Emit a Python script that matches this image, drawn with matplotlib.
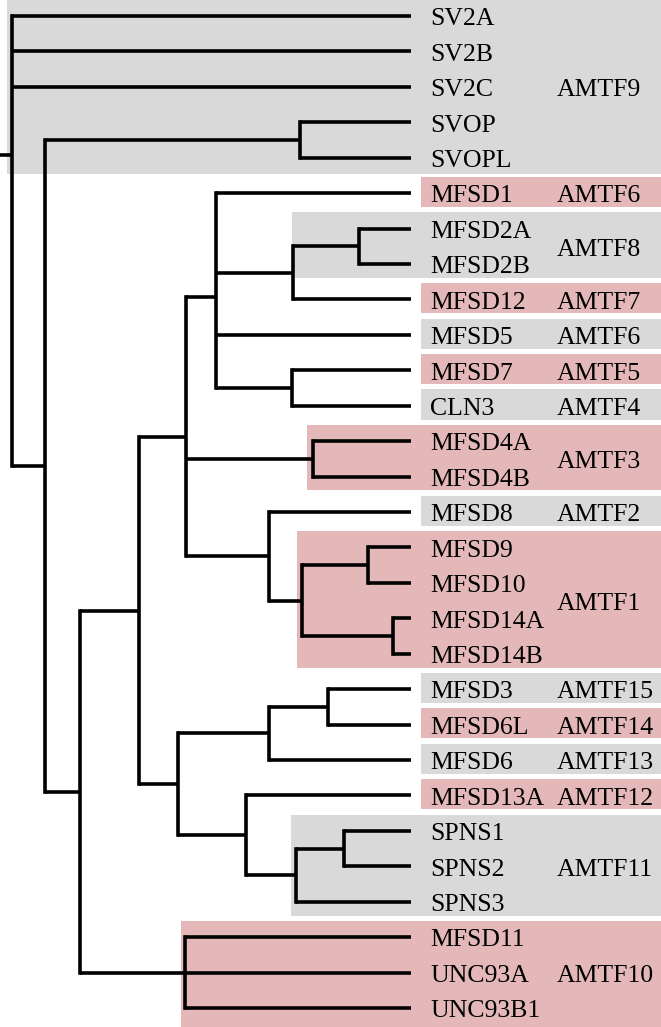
import matplotlib.pyplot as plt
from matplotlib.patches import Rectangle

leaves = ["SV2A", "SV2B", "SV2C", "SVOP", "SVOPL", "MFSD1", "MFSD2A", "MFSD2B",
          "MFSD12", "MFSD5", "MFSD7", "CLN3", "MFSD4A", "MFSD4B", "MFSD8", "MFSD9",
          "MFSD10", "MFSD14A", "MFSD14B", "MFSD3", "MFSD6L", "MFSD6", "MFSD13A",
          "SPNS1", "SPNS2", "SPNS3", "MFSD11", "UNC93A", "UNC93B1"]

# internal nodes: depth (root = 0, leaf tips = 100) and children
node_depth = {"root": 0, "n_sv": 8.3, "n_svop": 72.2, "n_mfs": 17.0, "n_a": 31.8,
              "n_b": 43.6, "n_c": 51.1, "n_d": 70.4, "n_2": 87.0, "n_7": 70.2,
              "n_4": 75.4, "n_e": 64.4, "n_f": 72.7, "n_9": 89.2, "n_14": 95.5,
              "n_g": 41.6, "n_h": 64.4, "n_3": 79.2, "n_i": 58.6, "n_j": 71.2,
              "n_sp": 83.2, "n_unc": 43.4}
node_children = {
    "root": ["SV2A", "SV2B", "SV2C", "n_sv"],
    "n_sv": ["n_svop", "n_mfs"],
    "n_svop": ["SVOP", "SVOPL"],
    "n_mfs": ["n_a", "n_unc"],
    "n_a": ["n_b", "n_g"],
    "n_b": ["n_c", "n_4", "n_e"],
    "n_c": ["MFSD1", "n_d", "MFSD5", "n_7"],
    "n_d": ["n_2", "MFSD12"],
    "n_2": ["MFSD2A", "MFSD2B"],
    "n_7": ["MFSD7", "CLN3"],
    "n_4": ["MFSD4A", "MFSD4B"],
    "n_e": ["MFSD8", "n_f"],
    "n_f": ["n_9", "n_14"],
    "n_9": ["MFSD9", "MFSD10"],
    "n_14": ["MFSD14A", "MFSD14B"],
    "n_g": ["n_h", "n_i"],
    "n_h": ["n_3", "MFSD6"],
    "n_3": ["MFSD3", "MFSD6L"],
    "n_i": ["MFSD13A", "n_j"],
    "n_j": ["n_sp", "SPNS3"],
    "n_sp": ["SPNS1", "SPNS2"],
    "n_unc": ["MFSD11", "UNC93A", "UNC93B1"],
}

group_names = ["AMTF9", "AMTF6", "AMTF8", "AMTF7", "AMTF6", "AMTF5", "AMTF4", "AMTF3",
               "AMTF2", "AMTF1", "AMTF15", "AMTF14", "AMTF13", "AMTF12", "AMTF11", "AMTF10"]
group_first = ["SV2A", "MFSD1", "MFSD2A", "MFSD12", "MFSD5", "MFSD7", "CLN3", "MFSD4A",
               "MFSD8", "MFSD9", "MFSD3", "MFSD6L", "MFSD6", "MFSD13A", "SPNS1", "MFSD11"]
group_last = ["SVOPL", "MFSD1", "MFSD2B", "MFSD12", "MFSD5", "MFSD7", "CLN3", "MFSD4B",
              "MFSD8", "MFSD14B", "MFSD3", "MFSD6L", "MFSD6", "MFSD13A", "SPNS3", "UNC93B1"]
group_box_start = [-1.25, 102.5, 70.2, 102.5, 102.5, 102.5, 102.5, 73.9,
                   102.5, 71.4, 102.5, 102.5, 102.5, 102.5, 69.9, 42.4]

GRAY = "#d9d9d9"
PINK = "#e4b8b8"

fig = plt.figure(figsize=(6.61, 10.27), dpi=100)
ax = fig.add_axes([0, 0, 1, 1])
xmin, xmax = -3.0, 162.7
ymin, ymax = -0.452, 28.535
ax.set_xlim(xmin, xmax)
ax.set_ylim(ymax, ymin)
ax.axis("off")

leaf_y = {name: i for i, name in enumerate(leaves)}
pos = {}


def layout(name):
    if name in leaf_y:
        pos[name] = (100.0, leaf_y[name])
        return pos[name]
    ys = [layout(c)[1] for c in node_children[name]]
    pos[name] = (node_depth[name], sum(ys) / len(ys))
    return pos[name]


layout("root")

lw = 2.6
for name, kids in node_children.items():
    x, _ = pos[name]
    ys = [pos[c][1] for c in kids]
    ax.plot([x, x], [min(ys), max(ys)], color="black", lw=lw,
            solid_capstyle="projecting", zorder=2)
    for c in kids:
        cx, cy = pos[c]
        ax.plot([x, cx], [cy, cy], color="black", lw=lw,
                solid_capstyle="butt", zorder=2)
# root stub
ax.plot([xmin, 0], [pos["root"][1]] * 2, color="black", lw=lw,
        solid_capstyle="butt", zorder=2)

for i, (g, a, b, x0) in enumerate(zip(group_names, group_first, group_last, group_box_start)):
    y0 = leaf_y[a] - 0.46
    y1 = leaf_y[b] + 0.39
    if i == 0:
        y0 = ymin
        y1 = leaf_y[b] + 0.45
    if i == len(group_names) - 1:
        y1 = ymax
    color = GRAY if i % 2 == 0 else PINK
    ax.add_patch(Rectangle((x0, y0), xmax - x0, y1 - y0, facecolor=color,
                           edgecolor="none", zorder=0))
    ax.text(136.6, (leaf_y[a] + leaf_y[b]) / 2 + 0.26, g, family="Liberation Serif",
            fontsize=18.5, va="baseline", ha="left", zorder=3)

for name in leaves:
    ax.text(104.8, leaf_y[name] + 0.26, name, family="Liberation Serif",
            fontsize=18.5, va="baseline", ha="left", zorder=3)

fig.savefig("out.png", dpi=100)
